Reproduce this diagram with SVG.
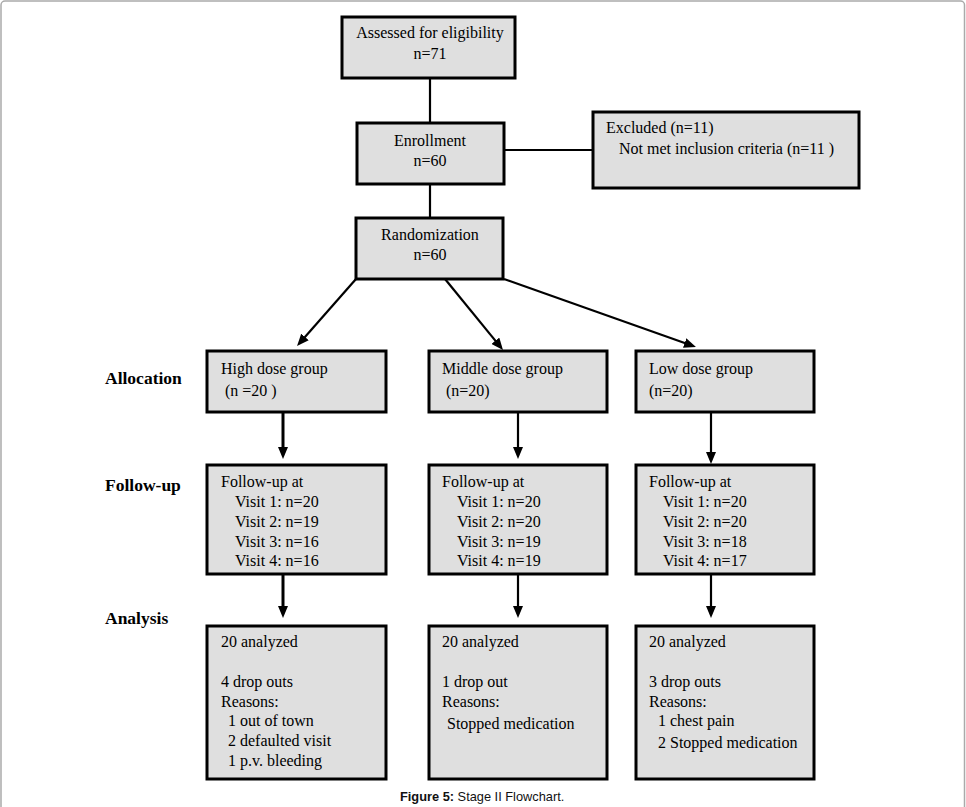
<svg xmlns="http://www.w3.org/2000/svg" width="966" height="807" viewBox="0 0 966 807">
<style>
  .box { fill: #dfdfdf; stroke: #000; stroke-width: 3; }
  .t { font-family: "Liberation Serif", "Times New Roman", serif; font-size: 16px; fill: #000; }
  .c { text-anchor: middle; }
  .lbl { font-family: "Liberation Serif", "Times New Roman", serif; font-size: 17.5px; font-weight: bold; fill: #000; }
  .ln { stroke: #000; stroke-width: 2.2; fill: none; }
  .thick { stroke-width: 3; }
  .cap { font-family: "Liberation Sans", Arial, sans-serif; font-size: 12.8px; fill: #111; }
</style>
<defs>
  <marker id="ah" viewBox="0 0 12 10" markerUnits="userSpaceOnUse" markerWidth="12" markerHeight="10" refX="6" refY="5" orient="auto">
    <path d="M0,0 L12,5 L0,10 z" fill="#000"/>
  </marker>
</defs>
<rect x="1" y="1" width="963.5" height="812" rx="4" fill="#fff" stroke="#aaa" stroke-width="1.5"/>

<g id="connectors">
  <line class="ln" x1="430" y1="78" x2="430" y2="123"/>
  <line class="ln" x1="504" y1="150" x2="593" y2="150"/>
  <line class="ln" x1="430" y1="184" x2="430" y2="218"/>
  <line class="ln" x1="356" y1="279" x2="301" y2="341.5" marker-end="url(#ah)"/>
  <line class="ln" x1="445" y1="279" x2="499.2" y2="345.4" marker-end="url(#ah)"/>
  <line class="ln" x1="504" y1="279" x2="690.3" y2="345" marker-end="url(#ah)"/>
  <line class="ln thick" x1="283" y1="413" x2="283" y2="453" marker-end="url(#ah)"/>
  <line class="ln" x1="518" y1="413" x2="518" y2="453" marker-end="url(#ah)"/>
  <line class="ln" x1="711" y1="413" x2="711" y2="458" marker-end="url(#ah)"/>
  <line class="ln thick" x1="283" y1="575" x2="283" y2="612" marker-end="url(#ah)"/>
  <line class="ln" x1="518" y1="575" x2="518" y2="612" marker-end="url(#ah)"/>
  <line class="ln" x1="711" y1="575" x2="711" y2="612" marker-end="url(#ah)"/>
</g>

<g id="assessed">
  <rect class="box" x="342" y="17" width="173" height="61"/>
  <text class="t c" x="430" y="38">Assessed for eligibility</text>
  <text class="t c" x="430" y="59">n=71</text>
</g>
<g id="enrollment">
  <rect class="box" x="357" y="123" width="147" height="61"/>
  <text class="t c" x="430" y="146">Enrollment</text>
  <text class="t c" x="430" y="166">n=60</text>
</g>
<g id="excluded">
  <rect class="box" x="593" y="112" width="266" height="76"/>
  <text class="t" x="606" y="133">Excluded (n=11)</text>
  <text class="t" x="619" y="154">Not met inclusion criteria (n=11 )</text>
</g>
<g id="randomization">
  <rect class="box" x="356" y="218" width="147" height="61"/>
  <text class="t c" x="430" y="240">Randomization</text>
  <text class="t c" x="430" y="260">n=60</text>
</g>

<g id="label-allocation"><text class="lbl" x="105" y="384">Allocation</text></g>
<g id="label-followup"><text class="lbl" x="105" y="491">Follow-up</text></g>
<g id="label-analysis"><text class="lbl" x="105" y="624">Analysis</text></g>

<g id="high">
  <rect class="box" x="207" y="351" width="179" height="61"/>
  <text class="t" x="221" y="374">High dose group</text>
  <text class="t" x="225" y="396">(n =20 )</text>
</g>
<g id="middle">
  <rect class="box" x="429" y="351" width="178" height="61"/>
  <text class="t" x="442" y="374">Middle dose group</text>
  <text class="t" x="446" y="396">(n=20)</text>
</g>
<g id="low">
  <rect class="box" x="636" y="351" width="178" height="61"/>
  <text class="t" x="649" y="374">Low dose group</text>
  <text class="t" x="649" y="396">(n=20)</text>
</g>

<g id="high-followup">
  <rect class="box" x="207" y="465" width="179" height="109"/>
  <text class="t" x="221" y="487">Follow-up at</text>
  <text class="t" x="235" y="507">Visit 1: n=20</text>
  <text class="t" x="235" y="527">Visit 2: n=19</text>
  <text class="t" x="235" y="546.5">Visit 3: n=16</text>
  <text class="t" x="235" y="566">Visit 4: n=16</text>
</g>
<g id="middle-followup">
  <rect class="box" x="429" y="465" width="178" height="109"/>
  <text class="t" x="442" y="487">Follow-up at</text>
  <text class="t" x="457" y="507">Visit 1: n=20</text>
  <text class="t" x="457" y="527">Visit 2: n=20</text>
  <text class="t" x="457" y="546.5">Visit 3: n=19</text>
  <text class="t" x="457" y="566">Visit 4: n=19</text>
</g>
<g id="low-followup">
  <rect class="box" x="636" y="465" width="178" height="109"/>
  <text class="t" x="649" y="487">Follow-up at</text>
  <text class="t" x="663" y="507">Visit 1: n=20</text>
  <text class="t" x="663" y="527">Visit 2: n=20</text>
  <text class="t" x="663" y="546.5">Visit 3: n=18</text>
  <text class="t" x="663" y="566">Visit 4: n=17</text>
</g>

<g id="high-analysis">
  <rect class="box" x="207" y="626" width="179" height="153"/>
  <text class="t" x="221" y="647">20 analyzed</text>
  <text class="t" x="221" y="687">4 drop outs</text>
  <text class="t" x="221" y="706.5">Reasons:</text>
  <text class="t" x="228" y="726">1 out of town</text>
  <text class="t" x="228" y="746">2 defaulted visit</text>
  <text class="t" x="228" y="766">1 p.v. bleeding</text>
</g>
<g id="middle-analysis">
  <rect class="box" x="429" y="626" width="178" height="153"/>
  <text class="t" x="442" y="647">20 analyzed</text>
  <text class="t" x="442" y="687">1 drop out</text>
  <text class="t" x="442" y="706.5">Reasons:</text>
  <text class="t" x="447" y="728.5">Stopped medication</text>
</g>
<g id="low-analysis">
  <rect class="box" x="636" y="626" width="178" height="153"/>
  <text class="t" x="649" y="647">20 analyzed</text>
  <text class="t" x="649" y="687">3 drop outs</text>
  <text class="t" x="649" y="706.5">Reasons:</text>
  <text class="t" x="658" y="726">1 chest pain</text>
  <text class="t" x="658" y="748">2 Stopped medication</text>
</g>

<g id="caption">
  <text class="cap" x="400" y="801"><tspan font-weight="bold">Figure 5:</tspan> Stage II Flowchart.</text>
</g>
</svg>
